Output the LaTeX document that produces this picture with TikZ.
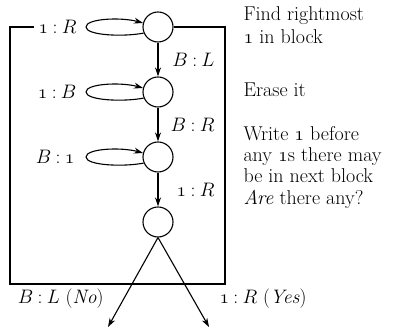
\documentclass[tikz,border=0pt]{standalone}
\usepackage{fix-cm}
\usetikzlibrary{positioning,arrows.meta}
\newcommand{\one}{{\usefont{OML}{cmm}{m}{it}1}}
\newcommand{\tr}[2]{$#1\mkern4mu{:}\mkern4mu#2$}

\begin{document}
\begin{tikzpicture}[x=1pt, y=1pt, line width=1.1pt,
    >={Stealth[length=9pt,width=6pt]},
    state/.style={circle, draw, minimum size=30pt, inner sep=0pt},
    lbl/.style={font=\fontsize{19.5}{23}\selectfont, inner sep=0pt},
    note/.style={font=\fontsize{20}{23}\selectfont, anchor=base west, inner sep=0pt}]
  \useasboundingbox (0,0) rectangle (405,331);
%
  \node[state] (c1) at (158,304) {};
  \node[state] (c2) at (158,239) {};
  \node[state] (c3) at (158,174) {};
  \node[state] (c4) at (158,109) {};
%
  \draw[->] (c1) -- node[lbl, anchor=east, xshift=57pt] (t12) {\tr{B}{L}} (c2);
  \draw[->] (c2) -- node[lbl, anchor=east, xshift=57pt] (t23) {\tr{B}{R}} (c3);
  \draw[->] (c3) -- node[lbl, anchor=east, xshift=57pt] (t34) {\tr{\mbox{\one}}{R}} (c4);
%
  \foreach \n in {c1,c2,c3} {
    \coordinate (\n t) at ([xshift=-72pt]\n.center);
    \draw[->] (\n.203) .. controls +(-20,-4) and +(0,-8.5) .. (\n t)
                   .. controls +(0,8.5) and +(-22,6) .. (\n.165);
  }
  \node[lbl, left=9pt of c1t] (l1) {\tr{\mbox{\one}}{R}};
  \node[lbl, left=9pt of c2t] (l2) {\tr{\mbox{\one}}{B}};
  \node[lbl, left=11pt of c3t] (l3) {\tr{B}{\mbox{\one}}};
%
  \coordinate (se) at (225,47);
  \coordinate (nw) at (10,304);
  \coordinate (ret) at (34,304);
  \draw (c1.east) -| (se) -| (nw) -- (ret);
%
  \coordinate (no) at (108,4);
  \coordinate (yes) at (209,4);
  \draw[->] (c4.south) -- (no);
  \draw[->] (c4.south) -- (yes);
  \node[lbl, anchor=east] (lno) at (104,32) {\tr{B}{L} (\textit{No})};
  \node[lbl, anchor=west] (lyes) at (219,32) {\tr{\mbox{\one}}{R} (\textit{Yes})};
%
  \node[note] (n1) at (243,310) {Find rightmost};
  \node[note] (n2) at (243,287) {\one\ in block};
  \node[note] (n3) at (243,234) {Erase it};
  \node[note] (n4) at (243,190) {Write \one\ before};
  \node[note] (n5) at (243,169) {any \one s there may};
  \node[note] (n6) at (243,148) {be in next block};
  \node[note] (n7) at (243,126) {\textit{Are} there any?};
\end{tikzpicture}
\end{document}
